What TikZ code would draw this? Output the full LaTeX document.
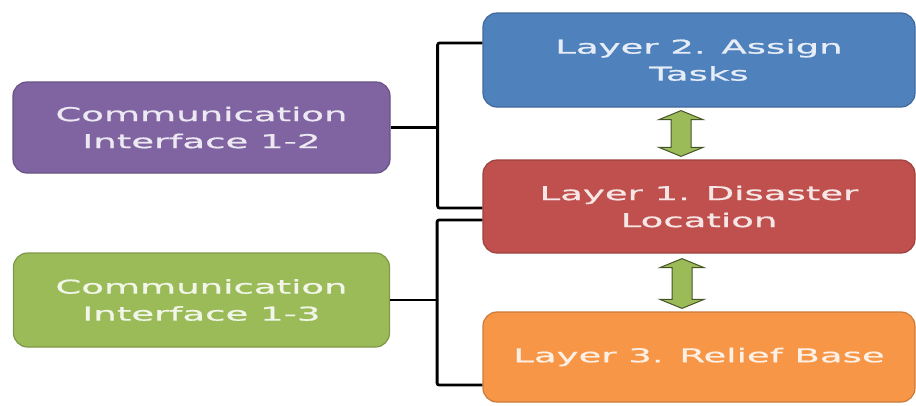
\documentclass[tikz,border=0pt]{standalone}
\usepackage{fontspec}
\setmainfont{DejaVu Sans}[FakeStretch=1.95,FakeBold=0.9]
\usetikzlibrary{calc}
\definecolor{cpurple}{HTML}{8064A2}
\definecolor{cblue}{HTML}{4F81BD}
\definecolor{cred}{HTML}{C0504D}
\definecolor{cgreen}{HTML}{9BBB59}
\definecolor{corange}{HTML}{F79646}

% vertical double block arrow between two tip points
\newcommand\layerlink[2]{%
  \filldraw[linkarrow] let \p1=(#1), \p2=(#2) in
    (\x1,\y1) -- (\x1+22pt,\y1-9pt) -- (\x1+10pt,\y1-9pt) -- (\x1+10pt,\y2+9pt)
    -- (\x1+22pt,\y2+9pt) -- (\x1,\y2) -- (\x1-22pt,\y2+9pt) -- (\x1-10pt,\y2+9pt)
    -- (\x1-10pt,\y1-9pt) -- (\x1-22pt,\y1-9pt) -- cycle;}

\begin{document}
\begin{tikzpicture}[x=1pt,y=-1pt,
  box/.style={rounded corners=14pt, draw=#1!82!black, fill=#1, line width=1.2pt,
    text=white!86!#1, align=center, inner sep=0pt,
    font=\fontsize{19}{27}\selectfont},
  brk/.style={draw=black, line width=2.8pt, rounded corners=2pt},
  linkarrow/.style={fill=cgreen, draw=cgreen!45!black, line width=1pt, line join=miter}]

\fill[white] (0,0) rectangle (916,405);
\useasboundingbox (0,0) rectangle (916,405);

% interface boxes
\node[box=cpurple, minimum width=377pt, minimum height=91pt] (ci12) at (201.5,127.5)
  {Communication\\Interface 1-2};
\node[box=cgreen, minimum width=376pt, minimum height=94pt] (ci13) at (201.5,300)
  {Communication\\Interface 1-3};

% layer boxes
\node[box=cblue, minimum width=432pt, minimum height=94pt] (l2) at (699,60)
  {Layer 2. Assign\\Tasks};
\node[box=cred, minimum width=432pt, minimum height=93pt] (l1) at (699,206.5)
  {Layer 1. Disaster\\Location};
\node[box=corange, minimum width=432pt, minimum height=90pt] (l3) at (699,357)
  {Layer 3. Relief Base};

% brackets joining interfaces to layers
\coordinate (j12) at ($(ci12.east)+(47,0)$);
\coordinate (j13) at ($(ci13.east)+(47,0)$);
\draw[brk] (ci12.east) -- (j12);
\draw[brk] ([yshift=17pt]l2.west) -| (j12) |- ([yshift=-1.5pt]l1.west);
\draw[brk] (ci13.east) -- (j13);
\draw[brk] ([yshift=-13.5pt]l1.west) -| (j13) |- ([yshift=-28pt]l3.west);

% two-way links between layers
\coordinate (a1) at ($(l2.south)+(-18,3)$);
\coordinate (b1) at ($(l1.north)+(-18,-3)$);
\coordinate (a2) at ($(l1.south)+(-17,5)$);
\coordinate (b2) at ($(l3.north)+(-17,-3)$);
\layerlink{a1}{b1}
\layerlink{a2}{b2}
\end{tikzpicture}
\end{document}
